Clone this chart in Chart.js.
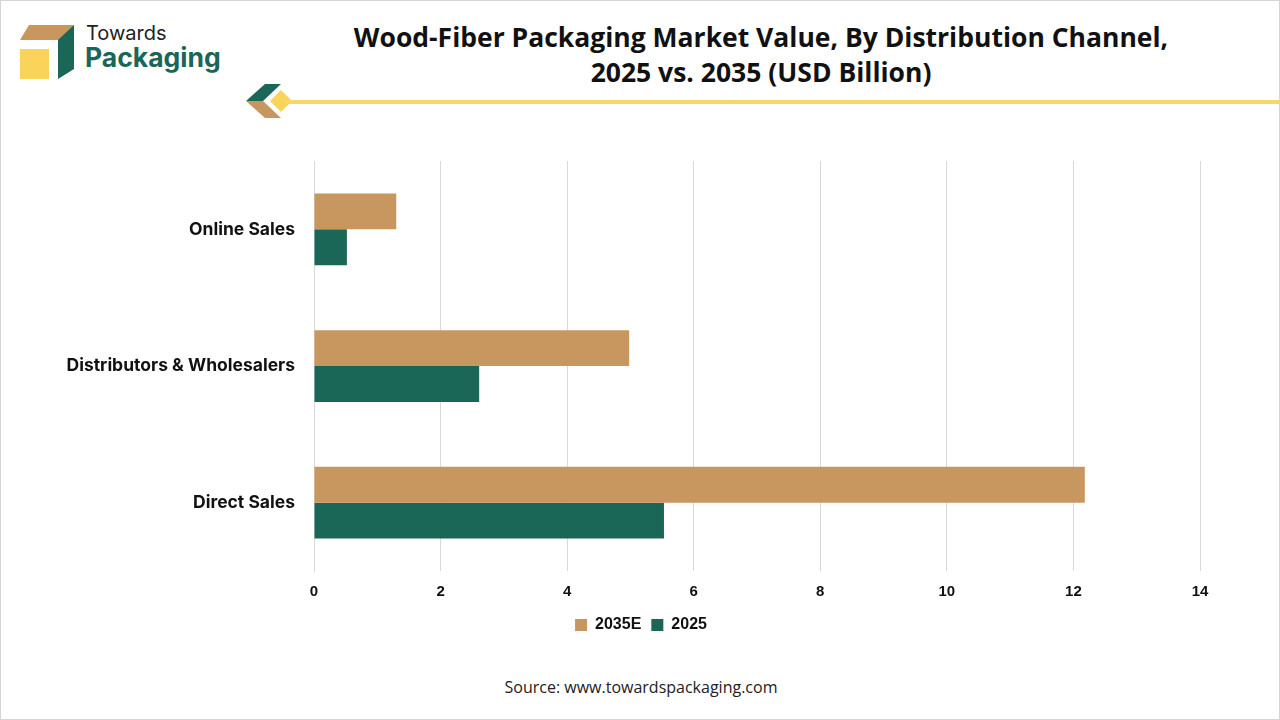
<!DOCTYPE html>
<html lang="en">
<head>
<meta charset="UTF-8">
<title>Wood-Fiber Packaging Market Value</title>
<script src="https://cdn.jsdelivr.net/npm/chart.js"></script>
<style>
    html, body { margin: 0; padding: 0; background: #fff; }
    #page {
        position: relative; width: 1278px; height: 718px;
        border: 1px solid #d4d4d4; overflow: hidden; background: #fff;
    }
    #logo { position: absolute; left: 0; top: 0; }
    #title {
        position: absolute; left: 300px; width: 920px; top: 19px;
        text-align: center; font-family: "Open Sans", sans-serif; font-weight: 700;
        font-size: 26.5px; line-height: 35px; color: #111;
    }
    #rule { position: absolute; left: 240px; top: 80px; }
    #chartBox { position: absolute; left: 0; top: 132px; width: 1280px; height: 518px; }
    #source {
        position: absolute; left: 0; width: 1280px; top: 675px; text-align: center;
        font-family: "Open Sans", sans-serif; font-size: 16px; color: #222;
    }
</style>
</head>
<body>
<div id="page">
    <svg id="logo" width="240" height="90">
        <polygon points="28,24 73,24 62,39 19,39" fill="#c8965f"/>
        <polygon points="73,24 73,68 57,78 57,39" fill="#1a6657"/>
        <rect x="19" y="48" width="29" height="30" fill="#fad45a"/>
        <text x="85" y="39" font-family="Inter, sans-serif" font-size="20" fill="#222">Towards</text>
        <text x="84" y="66" font-family="Inter, sans-serif" font-weight="700" font-size="26.5" fill="#1a6657">Packaging</text>
    </svg>
    <svg id="rule" width="1040" height="42">
        <polygon points="24,3 40,3 22,20 5,20" fill="#1a6657"/>
        <polygon points="5,20 22,20 40,37 24,37" fill="#c8965f"/>
        <polygon points="40,9 51,20 40,31 29,20" fill="#fad45a"/>
        <rect x="44" y="19" width="1000" height="4" fill="#f7d66a"/>
    </svg>
    <div id="title">Wood-Fiber Packaging Market Value, By Distribution Channel,<br>2025 vs. 2035 (USD Billion)</div>
    <div id="chartBox"><canvas id="chart"></canvas></div>
    <div id="source">Source: www.towardspackaging.com</div>
</div>

<script>
    // data
    const channels = ['Online Sales', 'Distributors & Wholesalers', 'Direct Sales'];
    const values2035 = [1.30, 4.98, 12.18];
    const values2025 = [0.52, 2.61, 5.53];
    const xTicks = [0, 2, 4, 6, 8, 10, 12, 14];

    const tan = '#c8965f';
    const green = '#1a6657';

    // the legend in the picture sits centred on the page, not on the padded box
    const centreLegend = {
        id: 'centreLegend',
        afterLayout(chart) {
            const lg = chart.legend;
            const shift = chart.width / 2 - (lg.left + lg.right) / 2;
            lg.left += shift;
            lg.right += shift;
        }
    };

    const ctx = document.getElementById('chart').getContext('2d');
    new Chart(ctx, {
        type: 'bar',
        data: {
            labels: channels,
            datasets: [
                { label: '2035E', data: values2035, backgroundColor: tan },
                { label: '2025', data: values2025, backgroundColor: green }
            ]
        },
        options: {
            indexAxis: 'y',
            responsive: true,
            maintainAspectRatio: false,
            animation: false,
            categoryPercentage: 0.525,
            barPercentage: 1.0,
            layout: { padding: { top: 28, right: 81, bottom: 8, left: 0 } },
            plugins: {
                tooltip: { enabled: false },
                legend: {
                    position: 'bottom',
                    labels: {
                        boxWidth: 12, boxHeight: 12, padding: 10,
                        font: { family: '"Liberation Sans Narrow", "Liberation Sans", sans-serif', size: 16, weight: 'bold' },
                        color: '#111'
                    }
                }
            },
            scales: {
                x: {
                    min: 0, max: 14,
                    afterBuildTicks: function(scale) {
                        scale.ticks = xTicks.map(v => ({ value: v }));
                    },
                    afterFit: function(scale) { scale.height = 36; },
                    grid: { color: '#d9d9d9', drawTicks: false },
                    border: { display: false },
                    ticks: {
                        padding: 12,
                        font: { family: '"Liberation Sans Narrow", "Liberation Sans", sans-serif', size: 15, weight: 'bold' },
                        color: '#111'
                    }
                },
                y: {
                    afterFit: function(scale) { scale.width = 313; },
                    grid: { display: false },
                    border: { display: true, color: '#d9d9d9' },
                    ticks: {
                        padding: 11,
                        font: { family: 'Inter, sans-serif', size: 17.5, weight: '700' },
                        color: '#111'
                    }
                }
            }
        },
        plugins: [centreLegend]
    });
</script>
</body>
</html>
